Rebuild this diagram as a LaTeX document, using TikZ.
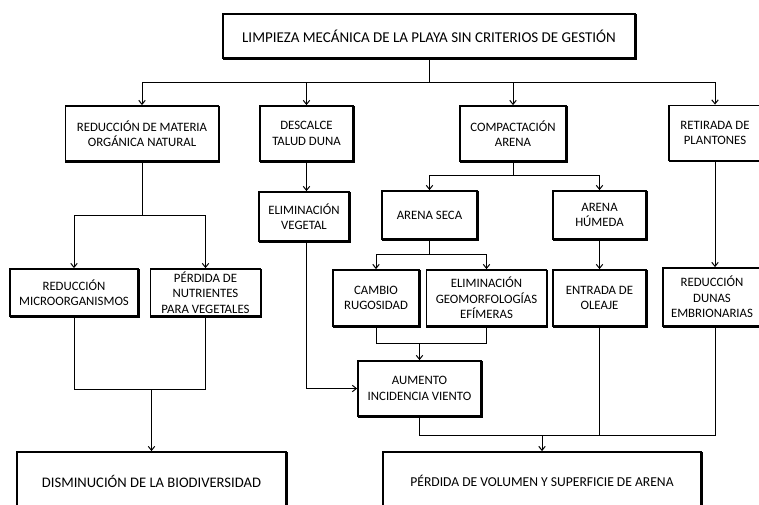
\documentclass[tikz,border=0pt]{standalone}
\usepackage{fontspec}
\setmainfont{Carlito}
\usetikzlibrary{arrows.meta}
\begin{document}
\begin{tikzpicture}[x=1pt,y=-1pt,
  box/.style={draw=black, line width=1.8pt, fill=white, inner sep=0pt, align=center,
    preaction={draw=black, line width=1.8pt, transform canvas={shift={(0.7pt,-0.7pt)}}},
    font=\fontsize{12.8}{15.6}\selectfont},
  bigbox/.style={box, font=\fontsize{14}{16}\selectfont},
  conn/.style={draw=black, line width=0.9pt},
  arr/.style={conn, -{Straight Barb[length=4pt,width=6.5pt,line width=1pt]}}]
\useasboundingbox (0,0) rectangle (759,504);
\clip (0,0) rectangle (759,504);
\fill[white] (0,0) rectangle (759,504);

\newcommand{\bx}[6]{\node[box, minimum width=#4, minimum height=#5] (#1) at (#2,#3) {#6};}
\node[box, minimum width=412, minimum height=44, font=\fontsize{15}{16}\selectfont] (top) at (429,36) {LIMPIEZA MECÁNICA DE LA PLAYA SIN CRITERIOS DE GESTIÓN};
\bx{rmo}{142}{133.5}{153}{55}{REDUCCIÓN DE MATERIA\\ORGÁNICA NATURAL}
\bx{desc}{306.5}{133.5}{93}{55}{DESCALCE\\TALUD DUNA}
\bx{comp}{513}{133.5}{106}{55}{COMPACTACIÓN\\ARENA}
\bx{ret}{715}{133}{92}{55}{RETIRADA DE\\PLANTONES}
\bx{elimveg}{304}{216.5}{90}{49}{ELIMINACIÓN\\VEGETAL}
\bx{aseca}{429.5}{215}{95}{48}{ARENA SECA}
\bx{ahum}{599.5}{215}{93}{48}{ARENA\\HÚMEDA}
\bx{rmicro}{74}{292.5}{128}{47}{REDUCCIÓN\\MICROORGANISMOS}
\bx{pnut}{205.5}{292.5}{110}{47}{PÉRDIDA DE\\NUTRIENTES\\PARA VEGETALES}
\bx{cambio}{376}{298}{86}{56}{CAMBIO\\RUGOSIDAD}
\bx{egeo}{486.5}{298}{120}{56}{ELIMINACIÓN\\GEOMORFOLOGÍAS\\EFÍMERAS}
\bx{entrada}{599.5}{298}{93}{56}{ENTRADA DE\\OLEAJE}
\bx{rdunas}{712}{297}{98}{58}{REDUCCIÓN\\DUNAS\\EMBRIONARIAS}
\bx{aumento}{419.5}{388.5}{123}{55}{AUMENTO\\INCIDENCIA VIENTO}
\node[bigbox, minimum width=269, minimum height=58, font=\fontsize{14.6}{16}\selectfont] (dism) at (151.5,481) {DISMINUCIÓN DE LA BIODIVERSIDAD};
\node[bigbox, minimum width=318, minimum height=58, font=\fontsize{13.6}{16}\selectfont] (perd) at (542,481) {PÉRDIDA DE VOLUMEN Y SUPERFICIE DE ARENA};

% level 1
\coordinate (j0) at (429,82);
\draw[conn] (top.south) -- (j0);
\draw[conn] (j0 -| rmo.north) -- (j0 -| ret.north);
\draw[arr] (j0 -| rmo.north) -- (rmo.north);
\draw[arr] (j0 -| desc.north) -- (desc.north);
\draw[arr] (j0 -| comp.north) -- (comp.north);
\draw[arr] (j0 -| ret.north) -- (ret.north);

% materia organica
\coordinate (j1) at (142,215);
\draw[conn] (rmo.south) -- (j1);
\draw[conn] (j1 -| rmicro.north) -- (j1 -| pnut.north);
\draw[arr] (j1 -| rmicro.north) -- (rmicro.north);
\draw[arr] (j1 -| pnut.north) -- (pnut.north);

% descalce
\draw[arr] (desc.south) -- (desc.south |- elimveg.north);

% compactacion
\coordinate (j2) at (513,175);
\draw[conn] (comp.south) -- (j2);
\draw[conn] (j2 -| aseca.north) -- (j2 -| ahum.north);
\draw[arr] (j2 -| aseca.north) -- (aseca.north);
\draw[arr] (j2 -| ahum.north) -- (ahum.north);

% retirada
\draw[arr] (ret.south) -- (ret.south |- rdunas.north);

% arena seca
\coordinate (j3) at (429.5,254);
\draw[conn] (aseca.south) -- (j3);
\draw[conn] (j3 -| cambio.north) -- (j3 -| egeo.north);
\draw[arr] (j3 -| cambio.north) -- (cambio.north);
\draw[arr] (j3 -| egeo.north) -- (egeo.north);

% arena humeda
\draw[arr] (ahum.south) -- (entrada.north);

% to aumento
\coordinate (j4) at (419.5,343);
\draw[conn] (cambio.south) -- (cambio.south |- j4) -- (egeo.south |- j4) -- (egeo.south);
\draw[arr] (j4) -- (aumento.north);
\draw[arr] (elimveg.south -| desc.south) |- (aumento.west);

% to biodiversidad
\coordinate (j5) at (151.5,389);
\draw[conn] (rmicro.south) -- (rmicro.south |- j5) -- (pnut.south |- j5) -- (pnut.south);
\draw[arr] (j5) -- (dism.north);

% to perdida
\coordinate (j6) at (542,435);
\draw[conn] (aumento.south) -- (aumento.south |- j6) -- (ret.south |- j6) -- (ret.south |- rdunas.south);
\draw[conn] (entrada.south) -- (entrada.south |- j6);
\draw[arr] (j6) -- (perd.north);
\end{tikzpicture}
\end{document}
